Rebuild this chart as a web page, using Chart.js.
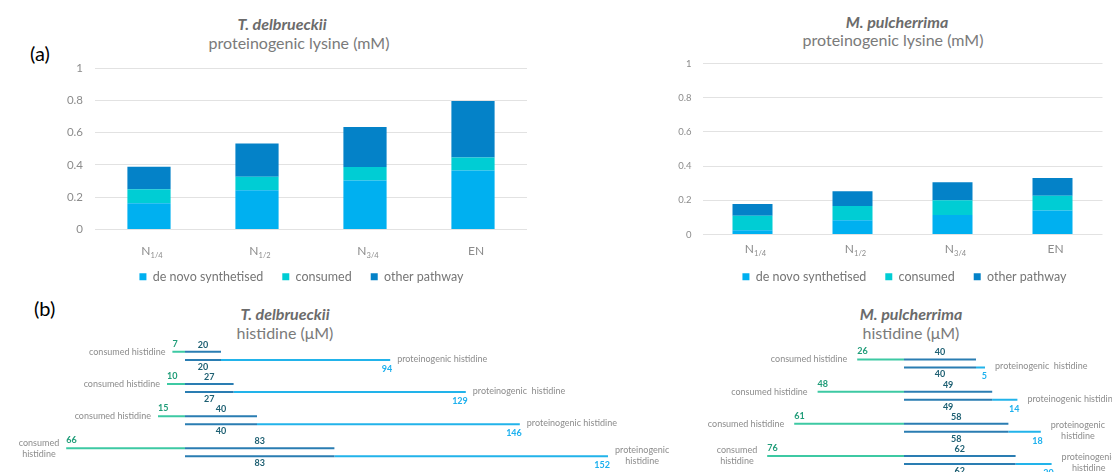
<!DOCTYPE html>
<html>
<head>
<meta charset="utf-8">
<script src="https://cdn.jsdelivr.net/npm/chart.js@4.4.1/dist/chart.umd.min.js"></script>
<style>
  html, body { margin: 0; padding: 0; background: #fff; }
  body { width: 1112px; height: 472px; position: relative; overflow: hidden; font-family: Lato, "Open Sans", sans-serif; }
  canvas { position: absolute; }
  .t { position: absolute; transform: translateX(-50%); white-space: nowrap; line-height: 20px; height: 20px; font-size: 16px; color: #7a7a7a; }
  .t.sp { font-weight: bold; font-style: italic; color: #6b6b6b; }
  .panel { position: absolute; font-size: 20px; line-height: 24px; color: #000; }
</style>
</head>
<body>
<div class="panel" style="left:30px; top:41px;">(a)</div>
<div class="panel" style="left:34px; top:296px;">(b)</div>

<div class="t sp" style="left:282px; top:14px;">T. delbrueckii</div>
<div class="t" style="left:299px; top:33px;">proteinogenic lysine (mM)</div>
<div class="t sp" style="left:897px; top:12px;">M. pulcherrima</div>
<div class="t" style="left:893px; top:30px;">proteinogenic lysine (mM)</div>
<div class="t sp" style="left:285px; top:304px;">T. delbrueckii</div>
<div class="t" style="left:285px; top:323px;">histidine (μM)</div>
<div class="t sp" style="left:911px; top:304px;">M. pulcherrima</div>
<div class="t" style="left:911px; top:323px;">histidine (μM)</div>

<canvas id="lysTD" width="523" height="293" style="left:40px; top:0px;"></canvas>
<canvas id="lysMP" width="529" height="293" style="left:640px; top:0px;"></canvas>
<canvas id="hisTD" width="680" height="200" style="left:0px; top:290px;"></canvas>
<canvas id="hisMP" width="460" height="200" style="left:680px; top:290px;"></canvas>

<script>
// (a) proteinogenic lysine, mM
const categories = ["N1/4", "N1/2", "N3/4", "EN"];
const lysineTicks = [0, 0.2, 0.4, 0.6, 0.8, 1];

const tdDeNovo = [0.162, 0.243, 0.304, 0.366];
const tdConsumed = [0.087, 0.084, 0.083, 0.080];
const tdOther = [0.140, 0.206, 0.247, 0.350];

const mpDeNovo = [0.025, 0.084, 0.114, 0.141];
const mpConsumed = [0.085, 0.083, 0.086, 0.085];
const mpOther = [0.068, 0.086, 0.106, 0.105];

// (b) histidine, µM
const tdHisConsumed = [7, 10, 15, 66];
const tdHisShared = [20, 27, 40, 83];
const tdHisProt = [94, 129, 146, 152];
const tdConsLabels = ["consumed histidine", "consumed histidine", "consumed histidine", "consumed\nhistidine"];
const tdProtLabels = ["proteinogenic histidine", "proteinogenic  histidine", "proteinogenic histidine", "proteinogenic\nhistidine"];

const mpHisConsumed = [26, 48, 61, 76];
const mpHisShared = [40, 49, 58, 62];
const mpHisProt = [5, 14, 18, 20];
const mpConsLabels = ["consumed histidine", "consumed histidine", "consumed histidine", "consumed\nhistidine"];
const mpProtLabels = ["proteinogenic  histidine", "proteinogenic histidine", "proteinogenic\nhistidine", "proteinogenic\nhistidine"];

Chart.defaults.font.family = "Lato, 'Open Sans', sans-serif";
Chart.defaults.devicePixelRatio = 1;

// x labels with subscripts (N1/4 -> N + small 1/4)
function subLabels(baseOffset) {
    return {
        id: "subLabels",
        afterDraw(chart) {
            const ctx = chart.ctx;
            const xs = chart.scales.x;
            const y = chart.chartArea.bottom + baseOffset;
            ctx.save();
            ctx.fillStyle = "#8c8c8c";
            ctx.textBaseline = "alphabetic";
            ctx.textAlign = "left";
            chart.data.labels.forEach((lab, i) => {
                const main = lab.match(/^[A-Z]+/)[0];
                const sub = lab.slice(main.length);
                ctx.font = "12px Lato";
                const wm = ctx.measureText(main).width;
                ctx.font = "7.5px Lato";
                const ws = ctx.measureText(sub).width;
                const x = xs.getPixelForValue(i) + 3 - (wm + ws) / 2;
                ctx.font = "12px Lato";
                ctx.fillText(main, x, y);
                ctx.font = "7.5px Lato";
                ctx.fillText(sub, x + wm, y + 3);
            });
            ctx.restore();
        }
    };
}

function lysineChart(id, deNovo, consumed, other, o) {
    new Chart(document.getElementById(id), {
        type: "bar",
        data: {
            labels: categories,
            datasets: [
                { label: "de novo synthetised", data: deNovo, backgroundColor: "#00B0F0" },
                { label: "consumed", data: consumed, backgroundColor: "#00CDD4" },
                { label: "other pathway", data: other, backgroundColor: "#0482C8" }
            ]
        },
        options: {
            responsive: false,
            animation: false,
            layout: { padding: { top: o.top } },
            datasets: { bar: { categoryPercentage: 1, barPercentage: 0.4 } },
            scales: {
                x: {
                    stacked: true,
                    grid: { display: false },
                    border: { display: false },
                    ticks: { display: false },
                    afterFit: s => { s.height = o.xh; }
                },
                y: {
                    stacked: true,
                    min: 0,
                    max: 1,
                    afterBuildTicks: s => { s.ticks = lysineTicks.map(v => ({ value: v })); },
                    ticks: {
                        padding: o.pad,
                        color: "#8c8c8c",
                        font: { size: o.tick },
                        callback: v => String(Math.round(v * 10) / 10)
                    },
                    grid: { color: "#e2e2e2", drawTicks: false },
                    border: { display: false },
                    afterFit: s => { s.width = o.yw; }
                },
                pad: {
                    type: "linear",
                    position: "right",
                    grid: { display: false },
                    ticks: { display: false },
                    border: { display: false },
                    afterFit: s => { s.width = o.rw; }
                }
            },
            plugins: {
                legend: {
                    position: "bottom",
                    labels: { boxWidth: 7, boxHeight: 7, padding: 19, color: "#767676", font: { size: 12.5 } }
                },
                tooltip: { enabled: false }
            }
        },
        plugins: [subLabels(o.lab)]
    });
}

lysineChart("lysTD", tdDeNovo, tdConsumed, tdOther, { top: 68, xh: 22, yw: 55, rw: 36, pad: 12, tick: 11.5, lab: 25 });
lysineChart("lysMP", mpDeNovo, mpConsumed, mpOther, { top: 63.5, xh: 17, yw: 62.5, rw: 66.5, pad: 11, tick: 9.5, lab: 18.3 });

// data labels for the histidine line charts
function histLabels(consumed, shared, prot, consLabels, protLabels, gap) {
    return {
        id: "histLabels",
        afterDatasetsDraw(chart) {
            const ctx = chart.ctx;
            const xs = chart.scales.x;
            const x0 = xs.getPixelForValue(0);
            const g = chart.getDatasetMeta(0).data;
            const d = chart.getDatasetMeta(1).data;
            const l = chart.getDatasetMeta(3).data;
            const num = (txt, x, y, align, color) => {
                ctx.font = "bold 9px Lato";
                ctx.textAlign = align;
                ctx.fillStyle = color;
                ctx.fillText(txt, x, y);
            };
            const block = (txt, x, y, side) => {
                const lines = txt.split("\n");
                ctx.font = "9px Lato";
                ctx.fillStyle = "#8c8c8c";
                const w = Math.max(...lines.map(s => ctx.measureText(s).width));
                let cx, align;
                if (lines.length > 1) {
                    align = "center";
                    cx = side < 0 ? x - w / 2 : x + w / 2;
                } else {
                    align = side < 0 ? "right" : "left";
                    cx = x;
                }
                ctx.textAlign = align;
                lines.forEach((s, k) => ctx.fillText(s, cx, y + (k - (lines.length - 1) / 2) * 11));
            };
            ctx.save();
            ctx.textBaseline = "middle";
            for (let i = 0; i < consumed.length; i++) {
                const yc = g[i].y, yp = l[i].y;
                const xg = g[i].x, xd = d[i].x, xl = l[i].x;
                num(String(consumed[i]), xg, yc - 8, "left", "#1f9c78");
                num(String(shared[i]), (x0 + xd) / 2, yc - 7, "center", "#1d5f72");
                num(String(shared[i]), (x0 + xd) / 2, yp + 7, "center", "#1d5f72");
                num(String(prot[i]), xl + 2, yp + 9, "right", "#1cb0ee");
                block(consLabels[i], xg - gap, yc, -1);
                block(protLabels[i], xl + gap, yp - 1, 1);
            }
            ctx.restore();
        }
    };
}

function histidineChart(id, consumed, shared, prot, consLabels, protLabels, o) {
    new Chart(document.getElementById(id), {
        type: "bar",
        data: {
            labels: categories,
            datasets: [
                { label: "consumed histidine", stack: "c", data: consumed.map(v => -v), backgroundColor: "#3DC9A3" },
                { label: "consumed histidine", stack: "c", data: shared, backgroundColor: "#2A7DB2" },
                { label: "proteinogenic histidine", stack: "p", data: shared, backgroundColor: "#2A7DB2" },
                { label: "proteinogenic histidine", stack: "p", data: prot, backgroundColor: "#22B3EA" }
            ]
        },
        options: {
            indexAxis: "y",
            responsive: false,
            animation: false,
            layout: { padding: o.padding },
            datasets: { bar: { categoryPercentage: 0.5, barPercentage: 1, maxBarThickness: 2 } },
            scales: {
                x: { display: false, stacked: true, min: -90, max: o.max },
                y: { display: false, stacked: true }
            },
            plugins: { legend: { display: false }, tooltip: { enabled: false } }
        },
        plugins: [histLabels(consumed, shared, prot, consLabels, protLabels, o.gap)]
    });
}

histidineChart("hisTD", tdHisConsumed, tdHisShared, tdHisProt, tdConsLabels, tdProtLabels,
    { padding: { left: 23, right: 45, top: 49.8, bottom: 21.6 }, max: 250, gap: 7 });
histidineChart("hisMP", mpHisConsumed, mpHisShared, mpHisProt, mpConsLabels, mpProtLabels,
    { padding: { left: 62, right: 20, top: 57.4, bottom: 13.9 }, max: 120, gap: 10 });
</script>
</body>
</html>
